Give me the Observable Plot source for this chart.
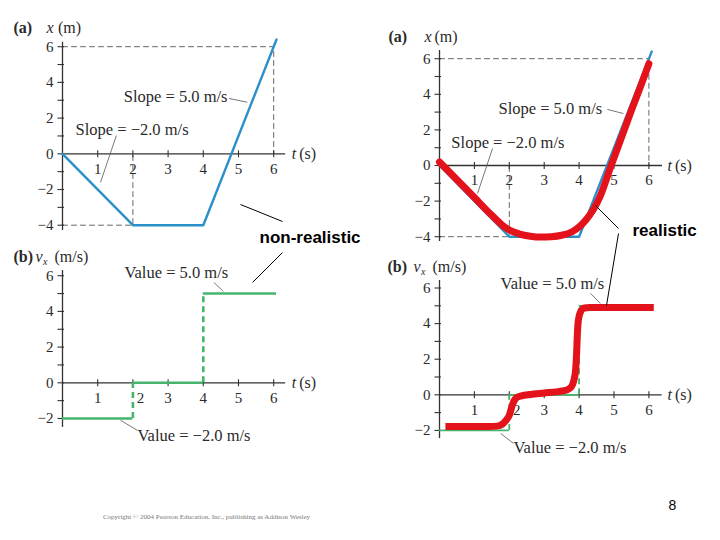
<!DOCTYPE html>
<html><head><meta charset="utf-8">
<script src="https://cdn.jsdelivr.net/npm/d3@7"></script>
<script src="https://cdn.jsdelivr.net/npm/@observablehq/plot@0.6"></script>
<style>
body{margin:0;background:#fff;}
#page{position:relative;width:720px;height:540px;overflow:hidden;background:#fff;}
</style></head><body><div id="page"></div>
<script>
// ---------- data ----------
// ideal position graph x(t)
const posT = [0, 2, 4, 6.08];
const posX = [0, -4, -4, 6.4];
// dashed guide corners (t, x)
const guideT = [6, 2];
const guideX = [6, -4];
// ideal velocity graph: flat segments and jumps
const segT1 = [0, 2, 4];
const segT2 = [2, 4, 6.08];
const segV = [-2, 0, 5];
const jumpT = [2, 4];
const jumpV1 = [-2, 0];
const jumpV2 = [0, 5];
// realistic position curve
const realPosT = [0, 0.5, 1, 1.5, 1.8, 2.0, 2.3, 2.6, 2.9, 3.2, 3.5, 3.8, 4.0, 4.2, 4.4, 4.6, 4.9, 5.2, 5.5, 5.8, 6.0];
const realPosX = [0.2, -0.8, -1.8, -2.8, -3.35, -3.62, -3.85, -3.97, -4.02, -4.0, -3.92, -3.72, -3.45, -3.05, -2.5, -1.75, -0.1, 1.5, 3.1, 4.65, 5.72];
// realistic velocity curve
const realVelT = [0.17, 0.6, 1.0, 1.4, 1.65, 1.8, 1.9, 2.0, 2.1, 2.2, 2.35, 2.6, 3.0, 3.4, 3.65, 3.78, 3.85, 3.9, 3.93, 3.95, 3.98, 4.05, 4.15, 4.3, 5.0, 5.6, 6.14];
const realVelV = [-1.78, -1.78, -1.78, -1.78, -1.76, -1.65, -1.45, -1.15, -0.5, -0.17, -0.06, 0.02, 0.1, 0.18, 0.27, 0.45, 0.8, 1.4, 2.4, 3.4, 4.2, 4.7, 4.88, 4.9, 4.9, 4.9, 4.9];
// ticks
const tTicks = [1, 2, 3, 4, 5, 6];
const posYTicks = [-4, -3, -2, -1, 0, 1, 2, 3, 4, 5, 6];
const posYLabels = [-4, -2, 0, 2, 4, 6];
const velYTicks = [-2, -1, 0, 1, 2, 3, 4, 5, 6];
const velYLabels = [-2, 0, 2, 4, 6];
// annotation texts
const slopeTexts = ["Slope = 5.0 m/s", "Slope = \u22122.0 m/s"];
const valueTexts = ["Value = 5.0 m/s", "Value = \u22122.0 m/s"];
const sideTexts = ["non-realistic", "realistic"];
const copyrightText = "Copyright \u00a9 2004 Pearson Education, Inc., publishing as Addison Wesley";
const pageNumber = "8";

// ---------- styles ----------
const serif = "'Liberation Serif','Times New Roman',serif";
const sans = "'Liberation Sans',Arial,sans-serif";
const ink = "#2a2a2a";
const blue = "#2b8fca";
const green = "#45b46c";
const red = "#e3121b";
const page = document.getElementById("page");
const fmt = d => d < 0 ? "\u2212" + (-d) : String(d);

function panel(cfg) {
  const {left, top, width, height, x0, kx, y0, ky} = cfg;
  const dxu = px => px / kx, dyu = px => px / ky;
  const marks = [];
  // dashed guides
  if (cfg.kind === "pos") {
    const guides = guideT.flatMap((t, i) => [
      {g: i, t: 0, x: guideX[i]}, {g: i, t: t, x: guideX[i]}, {g: i, t: t, x: 0}
    ]);
    marks.push(Plot.line(guides, {x: "t", y: "x", z: "g", stroke: "#666", strokeWidth: 1, strokeDasharray: "5,4"}));
  }
  // axes
  marks.push(Plot.ruleY([0], {x1: 0, x2: cfg.xEnd, stroke: "#333", strokeWidth: 1.3}));
  marks.push(Plot.ruleX([0], {y1: cfg.yMin, y2: cfg.yMax, stroke: "#333", strokeWidth: 1.3}));
  marks.push(Plot.ruleY(cfg.yTicks, {y: d => d, x1: -dxu(4.5), x2: dxu(2), stroke: "#333", strokeWidth: 1.1}));
  marks.push(Plot.ruleX(tTicks, {x: d => d, y1: -dyu(4), y2: dyu(3), stroke: "#333", strokeWidth: 1.1}));
  marks.push(Plot.text(cfg.yLabels, {x: 0, y: d => d, text: fmt, dx: -9, textAnchor: "end", fontFamily: serif, fontSize: 15, fill: ink}));
  marks.push(Plot.text(tTicks, {x: d => d + (cfg.kind === "vel" && d === 2 ? dxu(7.5) : 0), y: 0, dy: 15, text: d => String(d), fontFamily: serif, fontSize: 15, fill: ink}));
  // t (s)
  marks.push(Plot.text(["t"], {x: cfg.tLab, y: 0, text: d => d, textAnchor: "start", fontFamily: serif, fontStyle: "italic", fontSize: 16, fill: ink}));
  marks.push(Plot.text(["(s)"], {x: cfg.tLab + dxu(7.5), y: 0, text: d => d, textAnchor: "start", fontFamily: serif, fontSize: 16, fill: ink}));
  // y title
  const tt = cfg.title;
  const tStyle = {frameAnchor: "top-left", lineAnchor: "middle", textAnchor: "start", fontFamily: serif, fill: ink, text: d => d};
  marks.push(Plot.text([cfg.letter], {...tStyle, dx: tt[0], dy: tt[4], fontWeight: "bold", fontSize: 16}));
  marks.push(Plot.text([cfg.kind === "pos" ? "x" : "v"], {...tStyle, dx: tt[1], dy: tt[4], fontStyle: "italic", fontSize: 16}));
  if (cfg.kind === "vel") marks.push(Plot.text(["x"], {...tStyle, dx: tt[2], dy: tt[4] + 5, fontStyle: "italic", fontSize: 10}));
  marks.push(Plot.text([cfg.kind === "pos" ? "(m)" : "(m/s)"], {...tStyle, dx: tt[3], dy: tt[4], fontSize: 16}));
  // data
  if (cfg.kind === "pos") {
    marks.push(Plot.line(posT.map((t, i) => ({t, x: posX[i]})), {x: "t", y: "x", stroke: blue, strokeWidth: 2.4}));
    if (cfg.real) marks.push(Plot.line(realPosT.map((t, i) => ({t, x: realPosX[i]})), {x: "t", y: "x", stroke: red, strokeWidth: 7, curve: "monotone-x", strokeLinecap: "round", strokeLinejoin: "round"}));
  } else {
    const sw = cfg.real ? 1.8 : 2.6;
    marks.push(Plot.ruleY(segV.map((v, i) => ({v, t1: segT1[i], t2: segT2[i]})), {y: "v", x1: "t1", x2: "t2", stroke: green, strokeWidth: sw}));
    marks.push(Plot.ruleX(jumpT.map((t, i) => ({t, v1: jumpV1[i], v2: jumpV2[i]})), {x: "t", y1: "v1", y2: "v2", stroke: green, strokeWidth: sw, strokeDasharray: "6,4"}));
    if (cfg.real) marks.push(Plot.line(realVelT.map((t, i) => ({t, v: realVelV[i]})), {x: "t", y: "v", stroke: red, strokeWidth: 7, curve: "monotone-x", strokeLinecap: "butt", strokeLinejoin: "round"}));
  }
  // annotations
  const texts = cfg.kind === "pos" ? slopeTexts : valueTexts;
  marks.push(Plot.link(cfg.leaders, {x1: d => d[0], y1: d => d[1], x2: d => d[2], y2: d => d[3], stroke: "#555", strokeWidth: 0.8}));
  marks.push(Plot.text(cfg.labels.map((p, i) => ({t: p[0], y: p[1], s: texts[i]})), {x: "t", y: "y", text: "s", textAnchor: "start", fontFamily: serif, fontSize: 16.5, fill: ink}));

  const svg = Plot.plot({
    width, height, marginTop: 0, marginRight: 0, marginBottom: 0, marginLeft: 0,
    x: {type: "linear", domain: [0, 6], range: [x0, x0 + 6 * kx], axis: null},
    y: {type: "linear", domain: [0, 6], range: [y0, y0 - 6 * ky], axis: null},
    marks
  });
  Object.assign(svg.style, {position: "absolute", left: left + "px", top: top + "px", background: "transparent", overflow: "visible", maxWidth: "none"});
  page.appendChild(svg);
}

panel({kind: "pos", real: false, left: 0, top: 0, width: 330, height: 240, x0: 62, kx: 35.2, y0: 153.3, ky: 17.85,
  xEnd: 6.34, yMin: -4.3, yMax: 6.25, yTicks: posYTicks, yLabels: posYLabels, letter: "(a)", tLab: 6.51,
  title: [13, 46, 0, 57.5, 27],
  labels: [[1.74, 3.21], [0.37, 1.34]],
  leaders: [[4.73, 3.1, 5.25, 2.89], [1.53, 1.02, 1.08, -1.6]]});
panel({kind: "vel", real: false, left: 0, top: 240, width: 330, height: 230, x0: 62, kx: 35.2, y0: 142.3, ky: 17.85,
  xEnd: 6.34, yMin: -2.5, yMax: 6.29, yTicks: velYTicks, yLabels: velYLabels, letter: "(b)", tLab: 6.51,
  title: [13, 35, 42.5, 54, 16.7],
  labels: [[1.76, 6.18], [2.13, -2.95]],
  leaders: [[4.3, 5.62, 4.57, 5.12], [1.65, -2.1, 2.13, -2.67]]});
panel({kind: "pos", real: true, left: 380, top: 20, width: 330, height: 230, x0: 59, kx: 34.9, y0: 145, ky: 17.8,
  xEnd: 6.39, yMin: -4.27, yMax: 6.46, yTicks: posYTicks, yLabels: posYLabels, letter: "(a)", tLab: 6.53,
  title: [8, 44, 0, 54, 16.7],
  labels: [[1.69, 3.2], [0.34, 1.29]],
  leaders: [[4.81, 3.15, 5.27, 2.92], [1.52, 0.96, 1.09, -1.57]]});
panel({kind: "vel", real: true, left: 380, top: 250, width: 330, height: 220, x0: 59, kx: 34.9, y0: 144.3, ky: 17.8,
  xEnd: 6.38, yMin: -2.46, yMax: 6.42, yTicks: velYTicks, yLabels: velYLabels, letter: "(b)", tLab: 6.53,
  title: [7, 33, 40.5, 52, 16.7],
  labels: [[1.75, 6.25], [2.12, -3.0]],
  leaders: [[4.33, 5.69, 4.61, 5.13], [1.75, -2.17, 2.12, -2.73]]});

// ---------- page overlay (annotations in page pixels) ----------
const calloutX1 = [240, 282, 595, 618];
const calloutY1 = [204, 252, 205, 233];
const calloutX2 = [282, 252, 618, 606];
const calloutY2 = [221, 282, 228, 305];
const sideX = [259, 632];
const sideY = [237.5, 230.3];
const overlay = Plot.plot({
  width: 720, height: 540, marginTop: 0, marginRight: 0, marginBottom: 0, marginLeft: 0,
  x: {domain: [0, 720], range: [0, 720], axis: null},
  y: {domain: [0, 540], range: [0, 540], axis: null},
  marks: [
    Plot.link(calloutX1.map((x, i) => i), {x1: i => calloutX1[i], y1: i => calloutY1[i], x2: i => calloutX2[i], y2: i => calloutY2[i], stroke: "#000", strokeWidth: 1}),
    Plot.text(sideTexts.map((s, i) => i), {x: i => sideX[i], y: i => sideY[i], text: i => sideTexts[i], textAnchor: "start", fontFamily: sans, fontWeight: "bold", fontSize: 17, fill: "#000"}),
    Plot.text([copyrightText], {x: 206, y: 516, text: d => d, fontFamily: serif, fontSize: 7, fill: "#777"}),
    Plot.text([pageNumber], {x: 672, y: 505, text: d => d, fontFamily: sans, fontSize: 14, fill: "#000"})
  ]
});
Object.assign(overlay.style, {position: "absolute", left: "0px", top: "0px", background: "transparent", pointerEvents: "none", maxWidth: "none"});
page.appendChild(overlay);
</script>
</body></html>
